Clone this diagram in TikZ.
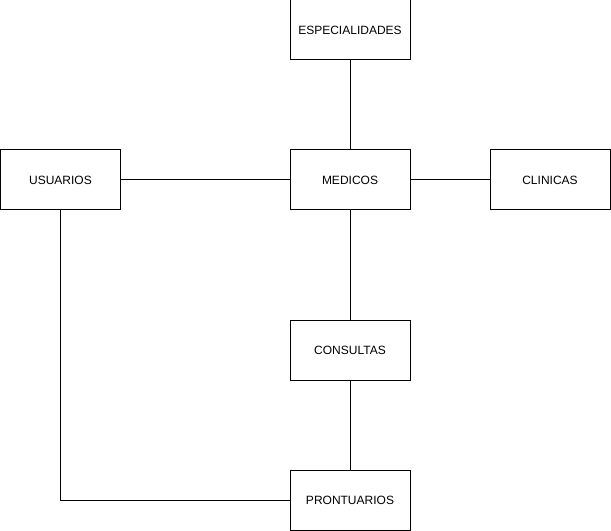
\documentclass[tikz,border=0pt]{standalone}
\usepackage{fontspec}
\setmainfont{Liberation Sans}
\usepackage{tikz}
\usetikzlibrary{arrows}

\begin{document}
\begin{tikzpicture}[x=0.75pt, y=-0.75pt, line width=0.75pt,
  tabela/.style={draw, rectangle, minimum width=90pt, minimum height=45pt, inner sep=0pt, font=\fontsize{9pt}{11pt}\selectfont}]
\useasboundingbox (0,0) rectangle (611,531);

\node[tabela] at (350,30) (esp) {ESPECIALIDADES};
\node[tabela] at (60.5,180) (usu) {USUARIOS};
\node[tabela] at (350,180) (med) {MEDICOS};
\node[tabela] at (550,180) (cli) {CLINICAS};
\node[tabela] at (350,350) (con) {CONSULTAS};
\node[tabela] at (350,500) (pro) {PRONTUARIOS};

\draw (esp) -- (med);
\draw (usu) -- (med);
\draw (med) -- (cli);
\draw (med) -- (con);
\draw (con) -- (pro);
\draw (usu.south) |- (pro.west);

\end{tikzpicture}
\end{document}
